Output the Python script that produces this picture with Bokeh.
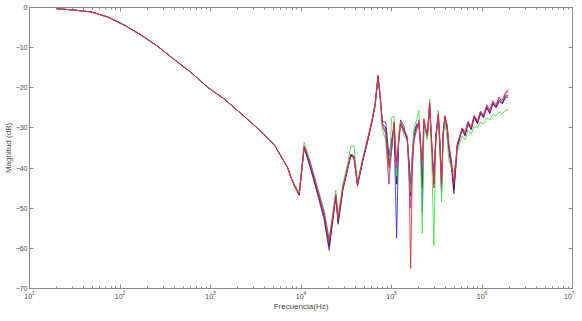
from bokeh.plotting import figure
from bokeh.models import Range1d, FixedTicker, LogAxis, LinearAxis
from bokeh.embed import file_html
from bokeh.resources import INLINE

# ---- data ----
freq_low = [20, 30, 48, 74, 112, 172, 262, 400, 611, 933, 1420, 2170, 3320, 5070, 7120, 7740]
mag_low = [-0.3, -0.6, -1.1, -2.4, -4.4, -6.9, -9.7, -13.0, -16.2, -19.9, -22.8, -26.4, -30.1, -34.2, -39.9, -42.3]

freq_hi = [8500, 9550, 10840, 12500, 15240, 18030, 20470, 22500, 24270, 25720,
           29000, 32650, 35490, 38500, 42070, 48000, 55000, 61480, 66000, 70950,
           75000, 79400, 86300, 93800, 100000, 106600, 114000, 120000, 126000, 137000,
           149600, 156000, 162800, 170000, 177000, 190000, 201000, 210000, 219000, 228000,
           238000, 249000, 264000, 280000, 294000, 310000, 329000, 343000, 357000, 372000,
           389000, 413000, 430000, 460000, 489000, 533000, 570000, 605000, 650000, 700000,
           760000, 820000, 890000, 962000, 1040000, 1130000, 1220000, 1320000, 1430000, 1550000,
           1680000, 1820000, 1950000]

mag_blue = [-44.5, -46.8, -35.0, -39.5, -46.5, -53.0, -60.5, -53.0, -47.0, -54.0,
            -45.5, -40.5, -37.0, -37.5, -44.5, -38.5, -33.0, -28.0, -24.5, -17.5,
            -22.5, -28.5, -28.5, -37.0, -33.0, -30.0, -57.4, -33.0, -28.0, -29.5,
            -33.5, -38.0, -44.0, -36.0, -31.0, -29.0, -29.5, -34.0, -51.0, -29.0,
            -30.5, -32.5, -25.0, -36.0, -42.0, -31.5, -27.0, -33.0, -46.0, -31.0,
            -27.5, -31.0, -36.0, -40.0, -46.4, -35.0, -32.5, -30.5, -32.0, -29.0,
            -30.5, -27.5, -29.0, -26.5, -27.5, -25.0, -26.5, -24.0, -25.0, -23.5,
            -24.0, -22.5, -22.3]

mag_black = [-44.5, -46.7, -34.8, -39.0, -46.0, -52.0, -59.5, -52.5, -47.0, -53.5,
             -45.2, -40.2, -36.8, -37.2, -44.2, -38.2, -32.8, -27.8, -24.2, -17.2,
             -22.2, -29.0, -30.0, -39.0, -35.0, -29.0, -44.0, -33.5, -28.5, -30.5,
             -33.0, -39.0, -47.0, -38.0, -32.0, -29.5, -29.0, -34.5, -45.0, -28.5,
             -30.2, -32.0, -24.0, -35.5, -44.0, -32.0, -26.8, -34.0, -45.0, -31.5,
             -27.2, -30.0, -35.0, -39.0, -45.5, -34.5, -32.2, -30.2, -31.8, -28.8,
             -30.2, -27.2, -28.8, -26.2, -27.2, -24.8, -26.2, -23.8, -24.8, -23.0,
             -23.8, -22.0, -22.0]

mag_green = [-44.0, -46.0, -33.5, -38.0, -45.0, -50.5, -57.5, -51.0, -45.5, -51.5,
             -44.0, -39.0, -34.5, -34.5, -43.5, -37.5, -32.0, -27.5, -23.8, -17.0,
             -22.5, -30.5, -33.0, -44.0, -27.5, -27.0, -42.0, -31.5, -28.5, -32.0,
             -33.0, -41.0, -46.0, -37.0, -30.0, -28.0, -25.6, -36.0, -56.2, -29.0,
             -30.5, -33.0, -22.8, -40.0, -59.4, -33.0, -25.6, -36.0, -48.4, -33.0,
             -28.0, -33.0, -38.0, -40.0, -41.0, -36.0, -33.5, -32.0, -33.0, -30.5,
             -31.5, -29.5, -30.0, -28.5, -29.0, -27.5, -28.0, -26.5, -27.0, -26.0,
             -26.5, -25.5, -25.6]

mag_magenta = [-44.5, -46.5, -34.6, -38.2, -45.0, -51.0, -58.0, -51.5, -46.5, -52.5,
               -44.8, -40.0, -36.5, -37.0, -44.2, -38.0, -32.5, -27.6, -24.0, -17.0,
               -22.0, -29.5, -31.5, -44.0, -36.0, -29.0, -40.0, -33.5, -29.5, -30.5,
               -32.0, -42.0, -50.0, -39.0, -33.0, -30.5, -28.0, -35.5, -40.0, -28.0,
               -30.0, -31.5, -24.0, -34.5, -43.0, -32.5, -26.5, -35.0, -43.0, -32.0,
               -27.0, -29.5, -34.0, -39.0, -43.5, -34.0, -31.8, -30.0, -31.0, -28.3,
               -29.8, -26.8, -28.2, -25.8, -26.8, -24.2, -25.6, -23.2, -24.2, -22.3,
               -23.0, -21.0, -20.5]

mag_red = [-44.5, -46.6, -34.5, -38.5, -45.5, -51.5, -58.5, -52.0, -46.8, -53.0,
           -45.0, -40.0, -36.5, -37.0, -44.0, -38.0, -32.5, -27.7, -24.0, -16.9,
           -22.0, -29.3, -31.0, -40.0, -36.0, -28.4, -38.5, -33.0, -28.9, -31.0,
           -32.6, -40.0, -65.0, -40.0, -33.3, -30.0, -28.5, -35.0, -38.0, -27.7,
           -30.0, -31.8, -23.5, -35.0, -45.0, -32.0, -26.5, -35.0, -44.0, -32.0,
           -27.0, -29.3, -34.0, -38.0, -44.0, -34.0, -32.0, -30.0, -31.5, -28.5,
           -30.0, -27.0, -28.5, -26.0, -27.0, -24.5, -26.0, -23.5, -24.5, -22.5,
           -23.5, -21.5, -20.8]

x_major = [1e1, 1e2, 1e3, 1e4, 1e5, 1e6, 1e7]
y_major = [-70, -60, -50, -40, -30, -20, -10, 0]

series = [
    (mag_blue, "#2a2ae0"),
    (mag_black, "#1a1a1a"),
    (mag_green, "#44dd44"),
    (mag_magenta, "#c43cc4"),
    (mag_red, "#e8262e"),
]

AX = "#8a8a8a"
TXT = "#4a4a4a"
FONT = "Liberation Sans"

p = figure(width=574, height=313, x_axis_type="log", output_backend="svg",
           toolbar_location=None, x_range=Range1d(10, 1e7), y_range=Range1d(-70, 0),
           min_border_left=0, min_border_right=2, min_border_top=7, min_border_bottom=0)
p.background_fill_color = "white"
p.border_fill_color = "white"
p.outline_line_color = AX
p.xgrid.visible = False
p.ygrid.visible = False

minor = [m * 10 ** e for e in range(1, 7) for m in range(2, 10)]
xt = FixedTicker(ticks=x_major, minor_ticks=minor)
yt = FixedTicker(ticks=y_major, minor_ticks=[])

for mags, col in series:
    p.line(freq_low + freq_hi, mag_low + mags, line_color=col, line_width=1.0, line_alpha=0.85)

def style(ax, labels=True):
    ax.axis_line_color = AX
    ax.major_tick_line_color = AX
    ax.minor_tick_line_color = AX
    ax.major_tick_in = 4
    ax.major_tick_out = 0
    ax.minor_tick_in = 2
    ax.minor_tick_out = 0
    ax.major_label_text_color = TXT if labels else None
    ax.major_label_text_alpha = 1.0 if labels else 0.0
    ax.major_label_text_font = FONT
    ax.major_label_text_font_size = "7px" if labels else "1px"
    ax.major_label_standoff = 2 if labels else 0
    ax.axis_label_text_font = FONT
    ax.axis_label_text_font_size = "8px"
    ax.axis_label_text_font_style = "normal"
    ax.axis_label_text_color = TXT
    ax.axis_label_standoff = 0

p.xaxis.ticker = xt
p.yaxis.ticker = yt
style(p.xaxis[0])
style(p.yaxis[0])
p.xaxis.axis_label = "Frecuencia(Hz)"
p.yaxis.axis_label = "Magnitud (dB)"

top = LogAxis(ticker=FixedTicker(ticks=x_major, minor_ticks=minor))
style(top, labels=False)
p.add_layout(top, "above")
right = LinearAxis(ticker=FixedTicker(ticks=y_major, minor_ticks=[]))
style(right, labels=False)
p.add_layout(right, "right")

open("out.html", "w").write(file_html(p, INLINE))
